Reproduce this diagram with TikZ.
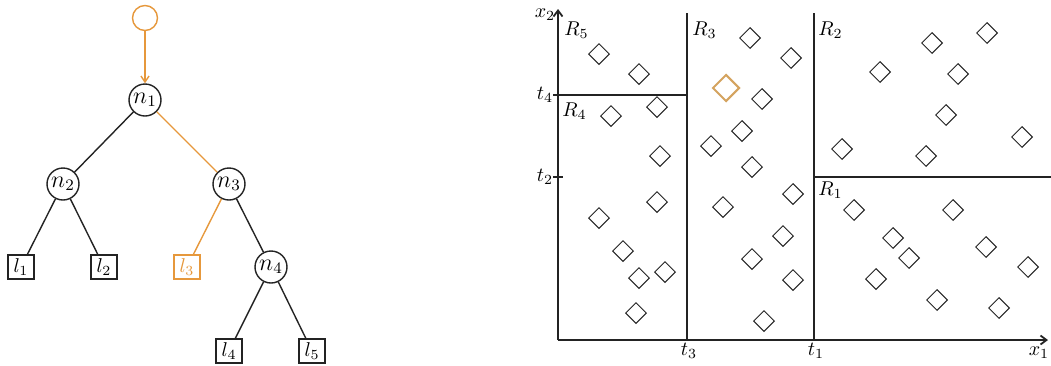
\documentclass[tikz,border=0pt]{standalone}
\usetikzlibrary{shapes.geometric,arrows.meta}
\definecolor{torange}{RGB}{230,152,60}
\definecolor{dorange}{RGB}{212,163,95}
\definecolor{ink}{RGB}{35,35,35}
\tikzset{
  inode/.style={circle,draw=ink,line width=0.7pt,minimum size=16pt,inner sep=0pt,font=\large},
  leaf/.style={rectangle,draw=ink,line width=0.7pt,minimum width=13pt,minimum height=12pt,inner sep=1pt},
  tedge/.style={draw=ink,line width=0.7pt},
  oedge/.style={draw=torange,line width=0.7pt},
  dia/.style={diamond,draw=ink,line width=0.5pt,minimum width=10.5pt,minimum height=10.5pt,inner sep=0pt},
  axisline/.style={draw=ink,line width=0.9pt},
  rlab/.style={anchor=north west,inner sep=0pt},
  tlab/.style={inner sep=0pt}
}
\begin{document}
\begin{tikzpicture}[x=0.5pt,y=-0.5pt]
\useasboundingbox (0,0) rectangle (1051,365);
% ---------- tree ----------
\node[inode,draw=torange,minimum size=12.5pt] (root) at (145,18) {};
\node[inode] (n1) at (145,100) {$n_1$};
\node[inode] (n2) at (63,184) {$n_2$};
\node[inode] (n3) at (229,184) {$n_3$};
\node[inode] (n4) at (271,267) {$n_4$};
\node[leaf] (l1) at (21,267) {$l_1$};
\node[leaf] (l2) at (104,267) {$l_2$};
\node[leaf,draw=torange,text=torange] (l3) at (187,267) {$l_3$};
\node[leaf] (l4) at (229,351) {$l_4$};
\node[leaf] (l5) at (312,351) {$l_5$};
\draw[oedge,-{Straight Barb[length=3pt,width=4pt]}] (root) -- (n1);
\draw[tedge] (n1) -- (n2);
\draw[oedge] (n1) -- (n3);
\draw[tedge] (n2) -- (l1);
\draw[tedge] (n2) -- (l2);
\draw[oedge] (n3) -- (l3);
\draw[tedge] (n3) -- (n4);
\draw[tedge] (n4) -- (l4);
\draw[tedge] (n4) -- (l5);
% ---------- partition plot ----------
\coordinate (O) at (558,340);
\coordinate (Xe) at (1048,340);
\coordinate (Ye) at (558,9);
\coordinate (t4a) at (553,95);
\coordinate (t4b) at (687,95);
\coordinate (t3a) at (687,340);
\coordinate (t3b) at (687,13);
\coordinate (t1a) at (814,340);
\coordinate (t1b) at (814,13);
\coordinate (t2a) at (814,177);
\coordinate (t2b) at (1051,177);
\coordinate (t2l) at (553,177);
\coordinate (t2r) at (563,177);
\draw[axisline,-{Straight Barb[length=3pt,width=4.5pt]}] (O) -- (Xe);
\draw[axisline,-{Straight Barb[length=3pt,width=4.5pt]}] (O) -- (Ye);
\draw[axisline] (t4a) -- (t4b);
\draw[axisline] (t3a) -- (t3b);
\draw[axisline] (t1a) -- (t1b);
\draw[axisline] (t2a) -- (t2b);
\draw[axisline] (t2l) -- (t2r);
\node[tlab] (lx2) at (545,15) {$x_2$};
\node[tlab] (lx1) at (1039,353) {$x_1$};
\node[tlab] (lt4) at (545,95) {$t_4$};
\node[tlab] (lt2) at (545,177) {$t_2$};
\node[tlab] (lt3) at (689,351) {$t_3$};
\node[tlab] (lt1) at (816,351) {$t_1$};
\node[rlab] (R5) at (564,21) {$R_5$};
\node[rlab] (R3) at (692,21) {$R_3$};
\node[rlab] (R2) at (818,21) {$R_2$};
\node[rlab] (R4) at (562,102) {$R_4$};
\node[rlab] (R1) at (818,181) {$R_1$};
% diamonds
\foreach \x/\y [count=\i] in {599/54,639/74,657/107,611/116,660/156,657/202,599/218,623/251,639/278,665/272,636/313,
  750/38,791/58,762/99,742/131,711/146,752/167,793/194,723/207,783/236,752/259,793/280,764/321,
  932/43,987/33,880/72,958/74,946/115,842/149,926/156,1022/137,
  854/210,953/210,893/238,909/258,876/279,986/247,1028/267,937/300,999/308}
  \node[dia] (d\i) at (\x,\y) {};
\node[dia,draw=dorange,line width=1pt,minimum width=13.5pt,minimum height=13.5pt] (dsel) at (726,88) {};
\end{tikzpicture}
\end{document}
